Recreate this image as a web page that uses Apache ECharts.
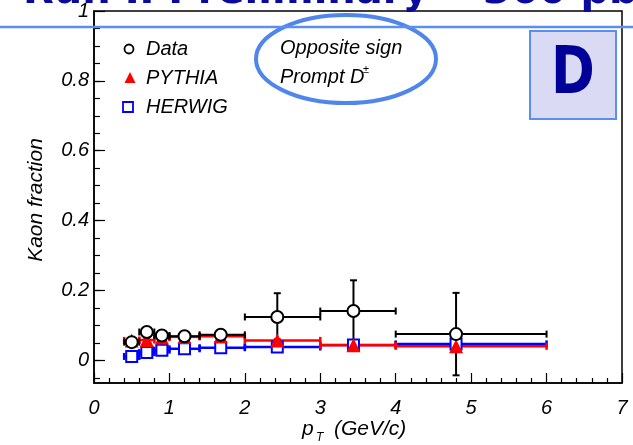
<!DOCTYPE html>
<html><head><meta charset="utf-8">
<script src="https://cdn.jsdelivr.net/npm/echarts@6/dist/echarts.min.js"></script>
<style>html,body{margin:0;padding:0;background:#fff}#c{width:633px;height:445px}</style>
</head><body><div id="c"></div>
<script>
// ---- data ----
const ptCenters = [0.5, 0.7, 0.9, 1.2, 1.68, 2.43, 3.44, 4.8];
const binLow    = [0.4, 0.6, 0.8, 1.0, 1.4, 2.0, 3.0, 4.0];
const binHigh   = [0.6, 0.8, 1.0, 1.4, 2.0, 3.0, 4.0, 6.0];
const dataY     = [0.052, 0.081, 0.071, 0.069, 0.073, 0.124, 0.141, 0.075];
const dataErr   = [0.008, 0.008, 0.008, 0.009, 0.010, 0.068, 0.088, 0.118];
const pythiaY   = [0.057, 0.058, 0.065, 0.067, 0.069, 0.057, 0.043, 0.040];
const pythiaErr = [0.003, 0.003, 0.003, 0.003, 0.003, 0.003, 0.003, 0.003];
const herwigY   = [0.011, 0.022, 0.029, 0.033, 0.036, 0.038, 0.044, 0.047];
const herwigErr = [0.003, 0.003, 0.003, 0.003, 0.003, 0.003, 0.003, 0.003];
const xTickLabels = [0, 1, 2, 3, 4, 5, 6, 7];
const yTickLabels = [0, 0.2, 0.4, 0.6, 0.8, 1];
const yMinorTicks = [-0.05, 0, 0.05, 0.1, 0.15, 0.2, 0.25, 0.3, 0.35, 0.4, 0.45, 0.5, 0.55, 0.6, 0.65, 0.7, 0.75, 0.8, 0.85, 0.9, 0.95];
const legendNames = ['Data', 'PYTHIA', 'HERWIG'];

const FONT = '"Liberation Sans", Arial, sans-serif';
const chart = echarts.init(document.getElementById('c'), null, {renderer: 'canvas'});

function errSeries(name, ys, errs, color, lw) {
  return {
    type: 'custom', name: name, silent: true,
    data: ptCenters.map((x, i) => [x, ys[i], binLow[i], binHigh[i], errs[i]]),
    encode: {x: 0, y: 1},
    renderItem: function (params, api) {
      const x = api.value(0), y = api.value(1), xl = api.value(2), xh = api.value(3), e = api.value(4);
      const pl = api.coord([xl, y]), ph = api.coord([xh, y]);
      const pt = api.coord([x, y + e]), pb = api.coord([x, y - e]);
      const c = 3.5;
      const st = {stroke: color, lineWidth: lw, fill: null};
      const ch = [
        {type: 'line', shape: {x1: pl[0], y1: pl[1], x2: ph[0], y2: ph[1]}, style: st},
        {type: 'line', shape: {x1: pl[0], y1: pl[1] - c, x2: pl[0], y2: pl[1] + c}, style: st},
        {type: 'line', shape: {x1: ph[0], y1: ph[1] - c, x2: ph[0], y2: ph[1] + c}, style: st},
        {type: 'line', shape: {x1: pt[0], y1: pt[1], x2: pb[0], y2: pb[1]}, style: st},
        {type: 'line', shape: {x1: pt[0] - c, y1: pt[1], x2: pt[0] + c, y2: pt[1]}, style: st},
        {type: 'line', shape: {x1: pb[0] - c, y1: pb[1], x2: pb[0] + c, y2: pb[1]}, style: st}
      ];
      return {type: 'group', children: ch};
    }
  };
}
function pts(ys) { return ptCenters.map((x, i) => [x, ys[i]]); }

const titleFont = 'bold 40px "DejaVu Sans", sans-serif';
const option = {
  animation: false,
  backgroundColor: '#fff',
  grid: {left: 94, right: 11, top: 11, bottom: 62, show: true, borderColor: '#000', borderWidth: 1.5, backgroundColor: 'transparent'},
  xAxis: {
    type: 'value', min: 0, max: 7, interval: 1,
    axisLine: {show: true, onZero: false, lineStyle: {color: '#000', width: 1.5}},
    axisTick: {show: true, inside: true, length: 10, lineStyle: {color: '#000', width: 1.2}},
    minorTick: {show: true, splitNumber: 5, length: 5, lineStyle: {color: '#000', width: 1.2}},
    splitLine: {show: false}, minorSplitLine: {show: false},
    axisLabel: {margin: 15, color: '#000', fontFamily: FONT, fontStyle: 'italic', fontSize: 20,
      formatter: v => xTickLabels.indexOf(v) >= 0 ? String(v) : ''}
  },
  yAxis: [{
    type: 'value', min: -0.065, max: 1,
    axisLine: {show: true, onZero: false, lineStyle: {color: '#000', width: 1.5}},
    axisTick: {show: true, inside: true, length: 11, customValues: yTickLabels, lineStyle: {color: '#000', width: 1.2}},
    splitLine: {show: false},
    axisLabel: {margin: 5, color: '#000', fontFamily: FONT, fontStyle: 'italic', fontSize: 20,
      customValues: yTickLabels, formatter: v => String(Math.round(v * 10) / 10)}
  }, {
    type: 'value', min: -0.065, max: 1, position: 'left',
    axisLine: {show: false},
    axisTick: {show: true, inside: true, length: 6, customValues: yMinorTicks, lineStyle: {color: '#000', width: 1.2}},
    splitLine: {show: false},
    axisLabel: {show: false}
  }],
  series: [
    errSeries('HERWIG err', herwigY, herwigErr, '#0000ff', 2.5),
    {type: 'scatter', name: 'HERWIG', data: pts(herwigY), symbol: 'rect', symbolSize: 11,
      itemStyle: {color: '#fff', borderColor: '#0000ff', borderWidth: 2, opacity: 1}},
    errSeries('PYTHIA err', pythiaY, pythiaErr, '#ff0000', 2.5),
    {type: 'scatter', name: 'PYTHIA', data: pts(pythiaY), symbol: 'triangle', symbolSize: 14,
      itemStyle: {color: '#ff0000', opacity: 1}},
    errSeries('Data err', dataY, dataErr, '#000', 2),
    {type: 'scatter', name: 'Data', data: pts(dataY), symbol: 'circle', symbolSize: 12,
      itemStyle: {color: '#fff', borderColor: '#000', borderWidth: 2, opacity: 1}}
  ],
  graphic: [
    // partially visible banner title (top is cut off by the window)
    {type: 'text', x: 23, y: -7, z: 100, style: {text: 'Run II Preliminary', fill: '#0a0a9c',
      font: titleFont, textAlign: 'left', textVerticalAlign: 'middle'}},
    {type: 'text', x: 452, y: -7, z: 100, style: {text: '~', fill: '#0a0a9c',
      font: titleFont, textAlign: 'left', textVerticalAlign: 'middle'}},
    {type: 'text', x: 483, y: -7, z: 100, style: {text: '360 pb\u207B\u00B9', fill: '#0a0a9c',
      font: titleFont, textAlign: 'left', textVerticalAlign: 'middle'}},
    {type: 'line', z: 100, shape: {x1: 0, y1: 27, x2: 633, y2: 27}, style: {stroke: '#5a8ef0', lineWidth: 2.5}},
    // legend
    {type: 'circle', z: 50, shape: {cx: 129, cy: 49, r: 4.5}, style: {fill: '#fff', stroke: '#000', lineWidth: 1.8}},
    {type: 'text', z: 50, x: 146, y: 49, style: {text: legendNames[0], font: 'italic 20px ' + FONT, fill: '#000', textVerticalAlign: 'middle'}},
    {type: 'polygon', z: 50, shape: {points: [[130, 72], [124.5, 83], [135.5, 83]]}, style: {fill: '#ff0000'}},
    {type: 'text', z: 50, x: 146, y: 78, style: {text: legendNames[1], font: 'italic 20px ' + FONT, fill: '#000', textVerticalAlign: 'middle'}},
    {type: 'rect', z: 50, shape: {x: 123, y: 102, width: 10, height: 10}, style: {fill: '#fff', stroke: '#0000ff', lineWidth: 1.8}},
    {type: 'text', z: 50, x: 146, y: 107, style: {text: legendNames[2], font: 'italic 20px ' + FONT, fill: '#000', textVerticalAlign: 'middle'}},
    // annotation ellipse
    {type: 'ellipse', z: 50, shape: {cx: 346, cy: 59, rx: 90, ry: 44}, style: {fill: 'none', stroke: '#4f86ec', lineWidth: 4}},
    {type: 'text', z: 51, x: 280, y: 48, style: {text: 'Opposite sign', font: 'italic 20px ' + FONT, fill: '#000', textVerticalAlign: 'middle'}},
    {type: 'text', z: 51, x: 280, y: 77, style: {text: 'Prompt D', font: 'italic 20px ' + FONT, fill: '#000', textVerticalAlign: 'middle'}},
    {type: 'text', z: 51, x: 363, y: 70, style: {text: '\u00B1', font: 'italic 11px ' + FONT, fill: '#000', textVerticalAlign: 'middle'}},
    // D box
    {type: 'rect', z: 50, shape: {x: 530, y: 31, width: 86, height: 88}, style: {fill: '#dadaf4', stroke: '#5a8ef0', lineWidth: 2}},
    {type: 'text', z: 51, x: 573, y: 76, scaleX: 0.8,
      style: {text: 'D', font: 'bold 66px "DejaVu Sans", sans-serif', fill: '#000099', textAlign: 'center', textVerticalAlign: 'middle'}},
    // axis titles
    {type: 'text', z: 50, x: 36, y: 200, rotation: Math.PI / 2,
      style: {text: 'Kaon fraction', font: 'italic 21px ' + FONT, fill: '#000', textAlign: 'center', textVerticalAlign: 'middle'}},
    {type: 'text', z: 50, x: 302, y: 429, style: {text: 'p', font: 'italic 21px ' + FONT, fill: '#000', textVerticalAlign: 'middle'}},
    {type: 'text', z: 50, x: 316, y: 438, style: {text: 'T', font: 'italic 12px ' + FONT, fill: '#000', textVerticalAlign: 'middle'}},
    {type: 'text', z: 50, x: 334, y: 429, style: {text: '(GeV/c)', font: 'italic 21px ' + FONT, fill: '#000', textVerticalAlign: 'middle'}}
  ]
};
chart.setOption(option);
</script>
</body></html>
